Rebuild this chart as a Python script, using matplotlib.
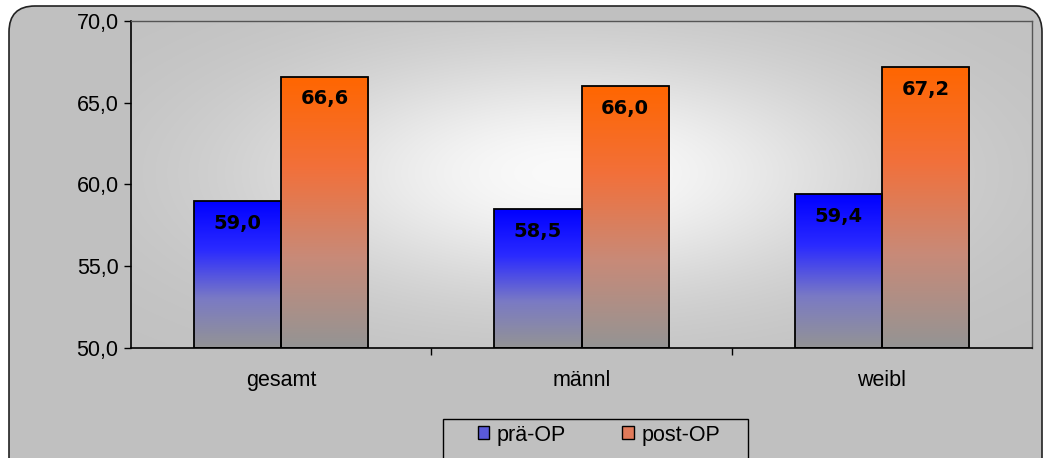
import numpy as np
import matplotlib
matplotlib.use("Agg")
import matplotlib.pyplot as plt
from matplotlib.patches import FancyBboxPatch, Patch, Rectangle
from matplotlib.colors import LinearSegmentedColormap
from matplotlib.transforms import IdentityTransform

# Daten
kategorien = ["gesamt", "männl", "weibl"]
prae_op = [59.0, 58.5, 59.4]
post_op = [66.6, 66.0, 67.2]
serien = ["prä-OP", "post-OP"]
y_ticks = [50, 55, 60, 65, 70]

plt.rcParams["font.family"] = ["Liberation Sans", "DejaVu Sans"]

fig = plt.figure(figsize=(10.45, 4.58), dpi=100, facecolor="white")

# abgerundeter Rahmen um das ganze Diagramm (Pixelkoordinaten)
rahmen = FancyBboxPatch((9, -30), 1033, 482, boxstyle="round,pad=0,rounding_size=26",
                        transform=IdentityTransform(), facecolor="#c0c0c0",
                        edgecolor="#222222", linewidth=1.2, zorder=-5)
fig.patches.append(rahmen)

ax = fig.add_axes([131 / 1045, 110 / 458, 901 / 1045, 327 / 458])

# Hintergrund mit hellem Fleck in der Mitte
gx, gy = np.meshgrid(np.linspace(0, 901, 450), np.linspace(0, 327, 160))
d = ((gx - 440) / 380) ** 2 + ((gy - 175) / 150) ** 2
hell = 0.755 + 0.225 * np.exp(-d * 1.5)
bg = np.dstack([hell, hell, hell])
ax.imshow(bg, extent=[-0.5, 2.5, 50, 70], aspect="auto", origin="lower", zorder=0,
          interpolation="bilinear")

x = np.arange(len(kategorien))
breite = 0.29

grau = "#949494"
cmap_blau = LinearSegmentedColormap.from_list("blau", [grau, "#7a7ac4", "#2a2aff", "#0000ff"])
cmap_orange = LinearSegmentedColormap.from_list("orange", [grau, "#c88a78", "#f2703a", "#ff6600"])


def balken(pos, werte, cmap):
    bars = ax.bar(pos, np.array(werte) - 50, bottom=50, width=breite, align="edge",
                  facecolor="none", edgecolor="black", linewidth=1.3, zorder=3)
    verlauf = np.linspace(0, 1, 256).reshape(-1, 1)
    for b in bars:
        x0, y0 = b.get_x(), b.get_y()
        im = ax.imshow(verlauf, cmap=cmap, extent=[x0, x0 + b.get_width(), y0, y0 + b.get_height()],
                       aspect="auto", origin="lower", zorder=2)
        im.set_clip_path(b)
    return bars


b1 = balken(x - breite, prae_op, cmap_blau)
b2 = balken(x, post_op, cmap_orange)
ax.set_xlim(-0.5, 2.5)
ax.set_ylim(50, 70)

# Wertebeschriftung in den Balken
for bars, werte in ((b1, prae_op), (b2, post_op)):
    for b, w in zip(bars, werte):
        ax.annotate(f"{w:.1f}".replace(".", ","), (b.get_x() + b.get_width() / 2, w),
                    xytext=(0, -16), textcoords="offset points", ha="center", va="center",
                    fontsize=14, fontweight="bold", family="DejaVu Sans", zorder=4)

# Achsen
ax.set_yticks(y_ticks)
ax.set_yticklabels([f"{t:.1f}".replace(".", ",") for t in y_ticks], fontsize=15.5)
ax.tick_params(axis="y", direction="out", length=5, width=1, pad=4)
ax.set_xticks(x)
ax.set_xticklabels(kategorien, fontsize=15.5)
ax.tick_params(axis="x", which="major", length=0, pad=16)
ax.set_xticks([0.5, 1.5], minor=True)
ax.tick_params(axis="x", which="minor", direction="out", length=5, width=1)
for s in ("left", "bottom"):
    ax.spines[s].set_color("black")
    ax.spines[s].set_linewidth(1.2)
for s in ("top", "right"):
    ax.spines[s].set_color("#555555")
    ax.spines[s].set_linewidth(1.0)

# Legende mit eigenem Rahmen
legrahmen = Rectangle((443, -20), 305, 59, transform=IdentityTransform(),
                      facecolor="#c0c0c0", edgecolor="black", linewidth=1.0, zorder=-4)
fig.patches.append(legrahmen)
handles = [Patch(facecolor="#5a5ad8", edgecolor="black", linewidth=1),
           Patch(facecolor="#e07a5a", edgecolor="black", linewidth=1)]
leg = fig.legend(handles, serien, loc="center", bbox_to_anchor=(599 / 1045, 1 - 435 / 458),
                 ncol=2, fontsize=15.5, frameon=False, handlelength=0.55,
                 handleheight=0.55, handletextpad=0.35, columnspacing=2.6, borderpad=0,
                 borderaxespad=0)

fig.savefig("out.png", dpi=100, facecolor="white")
